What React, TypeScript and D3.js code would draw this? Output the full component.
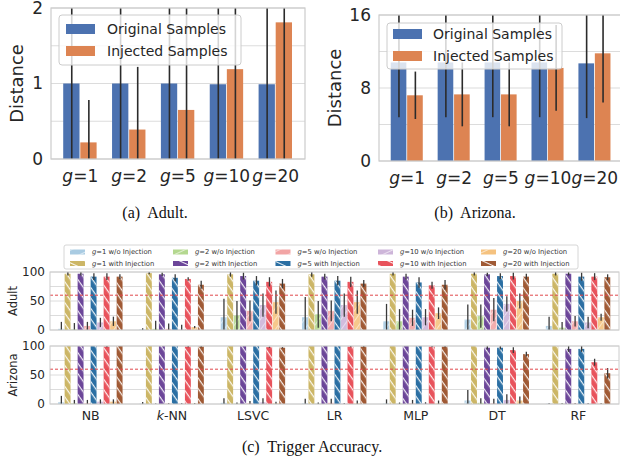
import React from 'react';
import * as d3 from 'd3';

// top charts: distance of original vs injected samples
const gLevels = ['1', '2', '5', '10', '20'];
const adultOrig = [1.0, 1.0, 1.0, 0.99, 0.99];
const adultOrigErr = [1.3, 1.3, 1.3, 1.3, 1.3];
const adultInj = [0.22, 0.39, 0.65, 1.19, 1.81];
const adultInjErr = [0.56, 0.83, 1.5, 1.4, 1.9];
const azOrig = [10.8, 10.8, 10.8, 10.8, 10.7];
const azOrigErr = [6.0, 6.0, 6.0, 6.0, 6.0];
const azInj = [7.2, 7.3, 7.3, 10.2, 11.8];
const azInjErr = [2.6, 3.5, 3.5, 4.7, 5.4];

// bottom chart: trigger accuracy, rows = g level, cols = classifier
const classifiers = ['NB', 'k-NN', 'LSVC', 'LR', 'MLP', 'DT', 'RF'];
const adultWo = [
  [2, 1, 22, 22, 15, 18, 7],
  [1, 2, 25, 27, 15, 24, 4],
  [7, 2, 33, 33, 21, 35, 15],
  [13, 1, 43, 43, 22, 45, 13],
  [15, 5, 48, 48, 29, 50, 22],
];
const adultWoErr = [
  [12, 2, 32, 35, 30, 26, 16],
  [11, 14, 25, 23, 21, 20, 10],
  [7, 9, 18, 18, 14, 20, 9],
  [8, 8, 20, 20, 14, 13, 10],
  [8, 2, 20, 20, 10, 13, 6],
];
const adultWith = [
  [97, 98, 96, 96, 97, 97, 97],
  [97, 96, 93, 92, 92, 96, 97],
  [92, 90, 85, 85, 82, 93, 92],
  [92, 88, 83, 83, 77, 93, 92],
  [92, 78, 80, 80, 78, 92, 91],
];
const adultWithErr = [
  [3, 2, 4, 4, 3, 3, 3],
  [3, 3, 6, 5, 5, 3, 3],
  [6, 6, 8, 8, 9, 5, 7],
  [6, 3, 8, 9, 6, 6, 6],
  [4, 7, 8, 6, 8, 5, 5],
];
const azWo = [
  [3, 0.5, 2, 1, 1, 6, 0.5],
  [1, 0, 0.5, 0.5, 0.5, 2, 0.5],
  [1, 0.5, 1, 2, 1, 1, 0.5],
  [4, 0.5, 3, 0.5, 1, 7, 0.5],
  [4, 0.5, 1, 1, 1, 6, 0.5],
];
const azWoErr = [
  [11, 3, 8, 8, 7, 18, 1],
  [6, 1, 2, 2, 2, 8, 1],
  [6, 1, 4, 7, 6, 8, 1],
  [4, 1, 7, 1, 2, 10, 1],
  [4, 1, 3, 5, 5, 7, 1],
];
const azWith = [
  [100, 100, 100, 100, 100, 100, 100],
  [100, 100, 100, 100, 100, 97, 95],
  [100, 100, 100, 100, 100, 97, 95],
  [99, 99, 98, 99, 99, 93, 72],
  [100, 99, 97, 99, 99, 86, 53],
];
const azWithErr = [
  [0, 0, 0, 0, 0, 0, 0],
  [0, 0, 0, 0, 0, 3, 5],
  [0, 0, 0, 0, 0, 3, 5],
  [1, 1, 1, 1, 1, 5, 6],
  [1, 1, 1, 1, 1, 4, 9],
];
const threshold = 60;

const woColors = ['#a9cbe2', '#b4d88f', '#f2a5a5', '#cdb5d9', '#f5c27f'];
const withColors = ['#ccb666', '#6c4699', '#2b6fa3', '#e8535c', '#a05a35'];

const FONT = 'DejaVu Sans';
const SERIF = 'Liberation Serif';

type DistProps = {
  id: string;
  left: number; right: number; top: number; bottom: number;
  yMax: number; ticks: number[]; grid: number[];
  orig: number[]; origErr: number[]; inj: number[]; injErr: number[];
  legend: { x: number; y: number; w: number; h: number; rows: number[]; patchX: number; textX: number };
  caption: string; captionX: number; labelX: number;
};

const DistancePanel = (p: DistProps) => {
  const x = d3.scaleBand<string>().domain(gLevels).range([p.left, p.right]).paddingInner(0.3).paddingOuter(0.25);
  const inner = d3.scaleBand<string>().domain(['o', 'i']).range([0, x.bandwidth()]);
  const y = d3.scaleLinear().domain([0, p.yMax]).range([p.bottom, p.top]);
  const series = [
    { key: 'o', vals: p.orig, errs: p.origErr, color: '#4c72b0', label: 'Original Samples' },
    { key: 'i', vals: p.inj, errs: p.injErr, color: '#dd8452', label: 'Injected Samples' },
  ];
  return (
    <g>
      <defs>
        <clipPath id={p.id}>
          <rect x={p.left} y={p.top} width={p.right - p.left} height={p.bottom - p.top} />
        </clipPath>
      </defs>
      {p.grid.map(v => (
        <line key={v} x1={p.left} x2={p.right} y1={y(v)} y2={y(v)} stroke="#dcdcdc" strokeWidth={1.2} />
      ))}
      <g clipPath={`url(#${p.id})`}>
        {series.map(s =>
          gLevels.map((g, i) => (
            <rect key={s.key + g} x={x(g)! + inner(s.key)!} y={y(s.vals[i])} width={inner.bandwidth() - 0.8}
              height={y(0) - y(s.vals[i])} fill={s.color} />
          ))
        )}
        {series.map(s =>
          gLevels.map((g, i) => {
            const cx = x(g)! + inner(s.key)! + inner.bandwidth() / 2;
            return (
              <line key={'e' + s.key + g} x1={cx} x2={cx} y1={y(s.vals[i] - s.errs[i])} y2={y(s.vals[i] + s.errs[i])}
                stroke="#2b2b2b" strokeWidth={1.6} />
            );
          })
        )}
      </g>
      <rect x={p.left} y={p.top} width={p.right - p.left} height={p.bottom - p.top} fill="none" stroke="#cccccc" strokeWidth={1.2} />
      {p.ticks.map(v => (
        <text key={v} x={p.left - 8} y={y(v)} dy="0.35em" textAnchor="end" fontFamily={FONT} fontSize={17} fill="#262626">{v}</text>
      ))}
      {gLevels.map(g => (
        <text key={g} x={x(g)! + x.bandwidth() / 2} y={p.bottom + 23} textAnchor="middle" fontFamily={FONT} fontSize={17} fill="#262626">
          <tspan fontStyle="italic">g</tspan>={g}
        </text>
      ))}
      <text transform={`translate(${p.labelX},${(p.top + p.bottom) / 2}) rotate(-90)`} textAnchor="middle" dy="0.35em"
        fontFamily={FONT} fontSize={18} fill="#262626">Distance</text>
      <rect x={p.legend.x} y={p.legend.y} width={p.legend.w} height={p.legend.h} rx={3} fill="white" fillOpacity={0.8} stroke="#cccccc" />
      {series.map((s, k) => (
        <g key={s.key}>
          <rect x={p.legend.patchX} y={p.legend.rows[k] - 5} width={29} height={10} fill={s.color} />
          <text x={p.legend.textX} y={p.legend.rows[k]} dy="0.35em" fontFamily={FONT} fontSize={14} fill="#262626">{s.label}</text>
        </g>
      ))}
      <text x={p.captionX} y={218} textAnchor="middle" fontFamily={SERIF} fontSize={16} fill="#111" xmlSpace="preserve">{p.caption}</text>
    </g>
  );
};

type AccProps = { id: string; top: number; bottom: number; label: string; wo: number[][]; woErr: number[][]; wi: number[][]; wiErr: number[][]; showX: boolean };

const AXL = 50, AXR = 619;
const groupX = d3.scaleBand<string>().domain(classifiers).range([AXL, AXR]).paddingInner(0.2).paddingOuter(0.1);
const barKeys = gLevels.flatMap(g => [`wo${g}`, `wi${g}`]);
const barX = d3.scaleBand<string>().domain(barKeys).range([0, groupX.bandwidth()]);

const AccPanel = (p: AccProps) => {
  const y = d3.scaleLinear().domain([0, 100]).range([p.bottom, p.top]);
  const bars: { key: string; x: number; v: number; e: number; color: string; hatch: string; op: number }[] = [];
  classifiers.forEach((c, ci) => {
    gLevels.forEach((g, gi) => {
      bars.push({ key: `${c}wo${g}`, x: groupX(c)! + barX(`wo${g}`)!, v: p.wo[gi][ci], e: p.woErr[gi][ci], color: woColors[gi], hatch: 'hatchFwd', op: 0.9 });
      bars.push({ key: `${c}wi${g}`, x: groupX(c)! + barX(`wi${g}`)!, v: p.wi[gi][ci], e: p.wiErr[gi][ci], color: withColors[gi], hatch: 'hatchBack', op: 1 });
    });
  });
  const bw = barX.bandwidth();
  return (
    <g>
      <defs>
        <clipPath id={p.id}>
          <rect x={AXL} y={p.top} width={AXR - AXL} height={p.bottom - p.top} />
        </clipPath>
      </defs>
      {[0, 25, 50, 75, 100].map(v => (
        <line key={v} x1={AXL} x2={AXR} y1={y(v)} y2={y(v)} stroke="#dcdcdc" strokeWidth={1} />
      ))}
      <g clipPath={`url(#${p.id})`}>
        {bars.map(b => (
          <g key={b.key}>
            <rect x={b.x} y={y(b.v)} width={bw - 0.6} height={y(0) - y(b.v)} fill={b.color} fillOpacity={b.op} />
            <rect x={b.x} y={y(b.v)} width={bw - 0.6} height={y(0) - y(b.v)} fill={`url(#${b.hatch})`} />
          </g>
        ))}
        {bars.filter(b => b.e > 0).map(b => (
          <line key={'e' + b.key} x1={b.x + bw / 2} x2={b.x + bw / 2} y1={y(b.v - b.e)} y2={y(b.v + b.e)} stroke="#3a3a3a" strokeWidth={1.3} />
        ))}
      </g>
      <line x1={AXL} x2={AXR} y1={y(threshold)} y2={y(threshold)} stroke="#e0474c" strokeWidth={1} strokeDasharray="3,2" />
      <rect x={AXL} y={p.top} width={AXR - AXL} height={p.bottom - p.top} fill="none" stroke="#cccccc" strokeWidth={1} />
      {[0, 50, 100].map(v => (
        <text key={v} x={AXL - 5} y={y(v)} dy="0.35em" textAnchor="end" fontFamily={FONT} fontSize={12} fill="#262626">{v}</text>
      ))}
      <text transform={`translate(13,${(p.top + p.bottom) / 2}) rotate(-90)`} textAnchor="middle" dy="0.35em"
        fontFamily={FONT} fontSize={11.5} fill="#262626">{p.label}</text>
      {p.showX && classifiers.map(c => (
        <text key={c} x={groupX(c)! + groupX.bandwidth() / 2} y={p.bottom + 16} textAnchor="middle" fontFamily={FONT} fontSize={12.5} fill="#262626">
          {c === 'k-NN' ? <><tspan fontStyle="italic">k</tspan>-NN</> : c}
        </text>
      ))}
    </g>
  );
};

const AccLegend = () => {
  const colX = [70, 173, 275.5, 378, 481];
  const rows = [252, 263.5];
  return (
    <g>
      <rect x={64} y={245} width={514} height={24} fill="white" fillOpacity={0.8} stroke="#cccccc" strokeWidth={0.8} rx={2} />
      {gLevels.map((g, gi) => (
        <g key={g}>
          {[0, 1].map(r => (
            <g key={r}>
              <rect x={colX[gi]} y={rows[r] - 2.5} width={15} height={5} fill={r === 0 ? woColors[gi] : withColors[gi]} />
              <rect x={colX[gi]} y={rows[r] - 2.5} width={15} height={5} fill={`url(#${r === 0 ? 'legFwd' : 'legBack'})`} />
              <text x={colX[gi] + 22} y={rows[r]} dy="0.35em" fontFamily={FONT} fontSize={6.8} fill="#333">
                <tspan fontStyle="italic">g</tspan>={g} {r === 0 ? 'w/o' : 'with'} Injection
              </text>
            </g>
          ))}
        </g>
      ))}
    </g>
  );
};

export default function App() {
  return (
    <svg width={620} height={463} style={{ position: 'absolute', left: 0, top: 0, background: 'white' }}>
      <defs>
        <pattern id="hatchBack" patternUnits="userSpaceOnUse" width={6} height={6} patternTransform="rotate(55)">
          <rect x={0} y={0} width={6} height={1.2} fill="white" fillOpacity={0.9} />
        </pattern>
        <pattern id="hatchFwd" patternUnits="userSpaceOnUse" width={6} height={6} patternTransform="rotate(-55)">
          <rect x={0} y={0} width={6} height={1} fill="white" fillOpacity={0.5} />
        </pattern>
        <pattern id="legBack" patternUnits="userSpaceOnUse" width={8} height={8} patternTransform="rotate(25)">
          <rect x={0} y={0} width={8} height={1} fill="white" fillOpacity={0.9} />
        </pattern>
        <pattern id="legFwd" patternUnits="userSpaceOnUse" width={8} height={8} patternTransform="rotate(-25)">
          <rect x={0} y={0} width={8} height={1} fill="white" fillOpacity={0.6} />
        </pattern>
      </defs>
      <DistancePanel id="clipA" left={51} right={305} top={8} bottom={159} yMax={2} ticks={[0, 1, 2]} grid={[0, 0.5, 1, 1.5, 2]}
        orig={adultOrig} origErr={adultOrigErr} inj={adultInj} injErr={adultInjErr}
        legend={{ x: 59, y: 15, w: 182, h: 50, rows: [29, 51], patchX: 66, textX: 107 }}
        caption="(a)  Adult." captionX={155} labelX={17} />
      <DistancePanel id="clipB" left={379} right={623} top={15} bottom={161} yMax={16} ticks={[0, 8, 16]} grid={[0, 4, 8, 12, 16]}
        orig={azOrig} origErr={azOrigErr} inj={azInj} injErr={azInjErr}
        legend={{ x: 387, y: 23, w: 175, h: 46, rows: [34, 56], patchX: 393, textX: 433 }}
        caption="(b)  Arizona." captionX={475} labelX={335} />
      <AccPanel id="clipC" top={272} bottom={330} label="Adult" wo={adultWo} woErr={adultWoErr} wi={adultWith} wiErr={adultWithErr} showX={false} />
      <AccPanel id="clipD" top={346} bottom={404} label="Arizona" wo={azWo} woErr={azWoErr} wi={azWith} wiErr={azWithErr} showX={true} />
      <AccLegend />
      <text x={312} y={452} textAnchor="middle" fontFamily={SERIF} fontSize={16} fill="#111" xmlSpace="preserve">(c)  Trigger Accuracy.</text>
    </svg>
  );
}
